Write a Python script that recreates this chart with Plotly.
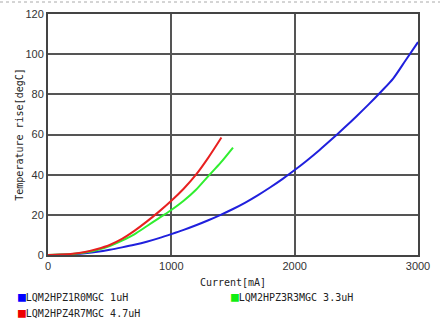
import plotly.graph_objects as go

# Data
blue_name = "LQM2HPZ1R0MGC 1uH"
blue_x = [0, 100, 200, 300, 400, 500, 600, 700, 800, 900, 1000, 1100, 1200, 1300, 1400, 1500,
          1600, 1700, 1800, 1900, 2000, 2100, 2200, 2300, 2400, 2500, 2600, 2700, 2800, 2900, 3000]
blue_y = [0, 0.1, 0.4, 0.9, 1.6, 2.6, 3.8, 5.1, 6.6, 8.4, 10.4, 12.5, 14.8, 17.3, 20.0, 22.9,
          26.1, 29.7, 33.6, 37.8, 42.3, 47.1, 52.2, 57.6, 63.2, 69.0, 75.0, 81.3, 88.0, 97.0, 106]

green_name = "LQM2HPZ3R3MGC 3.3uH"
green_x = [0, 100, 200, 300, 400, 500, 600, 700, 800, 900, 1000, 1100, 1200, 1300, 1400, 1500]
green_y = [0, 0.2, 0.5, 1.2, 2.5, 4.5, 7.2, 10.3, 14.3, 18.4, 22.4, 27, 32.5, 39.3, 46, 53.5]

red_name = "LQM2HPZ4R7MGC 4.7uH"
red_x = [0, 100, 200, 300, 400, 500, 600, 700, 800, 900, 1000, 1100, 1200, 1300, 1406]
red_y = [0, 0.2, 0.6, 1.5, 3.0, 5.0, 8.0, 12.0, 16.6, 21.6, 27, 33, 40, 48.5, 58.5]

x_ticks = [0, 1000, 2000, 3000]
y_ticks = [0, 20, 40, 60, 80, 100, 120]

line_colors = {"blue": "#2020dd", "green": "#30ee30", "red": "#e82020"}
legend_colors = {"blue": "#0000ff", "green": "#11ee11", "red": "#ee0000"}

fig = go.Figure()
for key, name, xs, ys in [("blue", blue_name, blue_x, blue_y),
                          ("green", green_name, green_x, green_y),
                          ("red", red_name, red_x, red_y)]:
    fig.add_trace(go.Scatter(x=xs, y=ys, mode="lines", name=name,
                             line=dict(color=line_colors[key], width=2, shape="spline", smoothing=0.8),
                             showlegend=False))

W, H = 440, 320
ml, mr, mt, mb = 48, 22, 14, 65
pw = W - ml - mr
ph = H - mt - mb

def px_to_paper_x(px):
    return (px - ml) / pw

def px_to_paper_y(py):
    return (H - mb - py) / ph

legend_items = [("blue", blue_name, 16, 296), ("green", green_name, 229, 296), ("red", red_name, 16, 312)]
annotations = []
for key, name, lx, ly in legend_items:
    annotations.append(dict(
        x=px_to_paper_x(lx), y=px_to_paper_y(ly), xref="paper", yref="paper",
        xanchor="left", yanchor="middle", showarrow=False,
        text=f"<span style='color:{legend_colors[key]};font-size:13px'>■</span>{name}",
        font=dict(family="DejaVu Sans Mono", size=10, color="#222"),
    ))

fig.update_layout(
    width=W, height=H,
    margin=dict(l=ml, r=mr, t=mt, b=mb, autoexpand=False),
    paper_bgcolor="white", plot_bgcolor="white",
    showlegend=False,
    annotations=annotations,
    shapes=[dict(type="line", xref="paper", yref="paper",
                 x0=px_to_paper_x(0), x1=px_to_paper_x(440),
                 y0=px_to_paper_y(2), y1=px_to_paper_y(2),
                 line=dict(color="#aaaaaa", width=1, dash="dot"))],
)
fig.update_xaxes(range=[0, 3000], tickvals=x_ticks, showgrid=True, gridcolor="#555555", gridwidth=1.5,
                 showline=True, linecolor="#444444", linewidth=2, mirror=True, zeroline=False,
                 automargin=False,
                 ticks="", tickfont=dict(family="Liberation Sans", size=11, color="#333"),
                 title=dict(text="Current[mA]", font=dict(family="DejaVu Sans Mono", size=10, color="#222"), standoff=8))
fig.update_yaxes(range=[0, 120], tickvals=y_ticks, showgrid=True, gridcolor="#555555", gridwidth=1.5,
                 showline=True, linecolor="#444444", linewidth=2, mirror=True, zeroline=False,
                 automargin=False,
                 ticks="", ticklabelstandoff=0, tickfont=dict(family="Liberation Sans", size=11, color="#333"),
                 title=dict(text="Temperature rise[degC]", font=dict(family="DejaVu Sans Mono", size=10, color="#222"), standoff=0))

fig.write_html("out.html", config={"displayModeBar": False},
               post_script="document.body.style.margin='0';")
